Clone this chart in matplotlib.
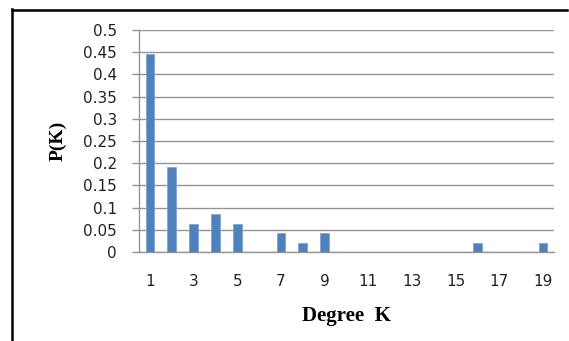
import matplotlib
matplotlib.use("Agg")
import matplotlib.pyplot as plt
from matplotlib.lines import Line2D

# Degree distribution data
degrees = list(range(1, 20))
probabilities = [0.4468, 0.1915, 0.0638, 0.0851, 0.0638, 0.0, 0.0426, 0.0213, 0.0426,
                 0.0, 0.0, 0.0, 0.0, 0.0, 0.0, 0.0213, 0.0, 0.0, 0.0213]
y_ticks = [0, 0.05, 0.1, 0.15, 0.2, 0.25, 0.3, 0.35, 0.4, 0.45, 0.5]
y_tick_labels = ["0", "0.05", "0.1", "0.15", "0.2", "0.25", "0.3", "0.35", "0.4", "0.45", "0.5"]

plt.rcParams["font.family"] = ["DejaVu Sans"]

W, H = 569, 341
fig = plt.figure(figsize=(W / 100, H / 100), dpi=100)
fig.patch.set_facecolor("white")

# axes box in pixel coordinates
left, right, top, bottom = 139, 554, 30, 252
ax = fig.add_axes([left / W, 1 - bottom / H, (right - left) / W, (bottom - top) / H])

positions = list(range(len(degrees)))
ax.bar(positions, probabilities, width=0.4, color="#4F81BD", edgecolor="#7FA4D4",
       linewidth=0.6, zorder=3)

ax.set_xlim(-0.5, len(degrees) - 0.5)
ax.set_ylim(0, 0.5)
ax.set_yticks(y_ticks)
ax.set_yticklabels(y_tick_labels)
ax.set_xticks(positions[::2])
ax.set_xticklabels([str(d) for d in degrees[::2]])

ax.grid(axis="y", color="#959595", linewidth=1.0, zorder=0)
ax.grid(axis="x", visible=False)
for side in ["top", "right"]:
    ax.spines[side].set_visible(False)
ax.spines["left"].set_color("#959595")
ax.spines["bottom"].set_color("#959595")
ax.spines["left"].set_linewidth(1.0)
ax.spines["bottom"].set_linewidth(1.0)

ax.tick_params(axis="y", length=5, width=1.0, color="#959595", labelsize=11,
               labelcolor="#222222", pad=11)
ax.tick_params(axis="x", length=0, labelsize=11, labelcolor="#222222", pad=16)

ax.set_ylabel("P(K)", fontfamily="Liberation Serif", fontweight="bold", fontsize=14,
              labelpad=12)
ax.set_xlabel("Degree  K", fontfamily="Liberation Serif", fontweight="bold", fontsize=15,
              labelpad=12)

# frame lines along the top and left of the figure
fig.add_artist(Line2D([12 / W, 12 / W], [0, 1 - 9 / H], color="black", linewidth=1.8,
                      transform=fig.transFigure))
fig.add_artist(Line2D([12 / W, 567 / W], [1 - 9.5 / H, 1 - 9.5 / H], color="black",
                      linewidth=1.8, transform=fig.transFigure))

fig.savefig("out.png", dpi=100)
